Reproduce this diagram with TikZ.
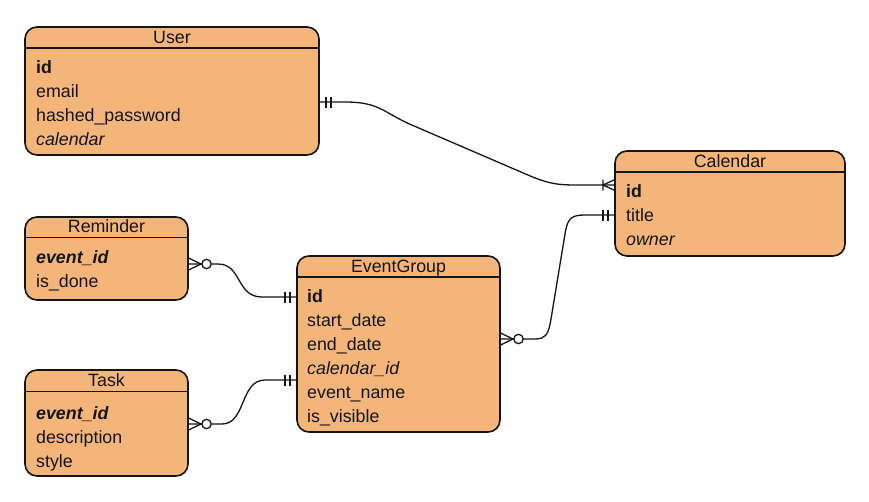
\documentclass[tikz,border=0pt]{standalone}
\usepackage{fontspec}
\setmainfont{Liberation Sans}
\definecolor{erfill}{HTML}{F4B57B}
\definecolor{erline}{HTML}{141414}
\newcommand\erfont{\fontsize{17.8}{21}\selectfont}
\begin{document}
\begin{tikzpicture}[x=1pt,y=-1pt,
  entity/.style={draw=erline, line width=1.6pt, fill=erfill, rounded corners=12pt,
    anchor=north west, inner sep=0pt, outer sep=0pt},
  divider/.style={draw=erline, line width=1.3pt},
  ttl/.style={anchor=base, inner sep=0pt, text=erline, font=\erfont},
  fld/.style={anchor=base west, inner sep=0pt, text=erline, font=\erfont},
  rel/.style={draw=erline, line width=1.3pt},
  pics/mandone/.style={code={
    \draw[rel] (7,-5.5) -- (7,5.5) (12,-5.5) -- (12,5.5);}},
  pics/onemany/.style={code={
    \draw[rel] (12,-5.5) -- (12,5.5) (0,-5.5) -- (12,0) -- (0,5.5);}},
  pics/zeromany/.style={code={
    \draw[rel] (0,-6.3) -- (13,0) -- (0,6.3);
    \draw[rel, fill=white] (18.5,0) circle[radius=4.7pt];}}
]
\useasboundingbox (0,0) rectangle (869,501);

% ---------- entities ----------
\node[entity, minimum width=294pt, minimum height=128pt] (user) at (25,27) {};
\draw[divider] (user.west |- 0,48) -- (user.east |- 0,48);
\node[ttl] (user-t) at (172,43) {User};
\node[fld] (user-f1) at (36,73) {\textbf{id}};
\node[fld] (user-f2) at (36,97) {email};
\node[fld] (user-f3) at (36,121) {hashed\_password};
\node[fld] (user-f4) at (36,145) {\textit{calendar}};

\node[entity, minimum width=230pt, minimum height=105pt] (cal) at (615,151) {};
\draw[divider] (cal.west |- 0,172) -- (cal.east |- 0,172);
\node[ttl] (cal-t) at (730,167) {Calendar};
\node[fld] (cal-f1) at (626,197) {\textbf{id}};
\node[fld] (cal-f2) at (626,221) {title};
\node[fld] (cal-f3) at (626,245) {\textit{owner}};

\node[entity, minimum width=163pt, minimum height=83pt] (rem) at (25,217) {};
\draw[divider] (rem.west |- 0,237.5) -- (rem.east |- 0,237.5);
\node[ttl] (rem-t) at (106.5,232) {Reminder};
\node[fld] (rem-f1) at (36,263.5) {\textbf{\textit{event\_id}}};
\node[fld] (rem-f2) at (36,287.5) {is\_done};

\node[entity, minimum width=203pt, minimum height=176pt] (eg) at (297,256) {};
\draw[divider] (eg.west |- 0,277) -- (eg.east |- 0,277);
\node[ttl] (eg-t) at (398.5,272) {EventGroup};
\node[fld] (eg-f1) at (307,302) {\textbf{id}};
\node[fld] (eg-f2) at (307,326) {start\_date};
\node[fld] (eg-f3) at (307,350) {end\_date};
\node[fld] (eg-f4) at (307,374) {\textit{calendar\_id}};
\node[fld] (eg-f5) at (307,398) {event\_name};
\node[fld] (eg-f6) at (307,422) {is\_visible};

\node[entity, minimum width=163pt, minimum height=106pt] (task) at (25,370) {};
\draw[divider] (task.west |- 0,391.5) -- (task.east |- 0,391.5);
\node[ttl] (task-t) at (106.5,386) {Task};
\node[fld] (task-f1) at (36,419.5) {\textbf{\textit{event\_id}}};
\node[fld] (task-f2) at (36,443.5) {description};
\node[fld] (task-f3) at (36,467.5) {style};

% ---------- connector end points ----------
\coordinate (user-r) at (user.east |- 0,102);
\coordinate (cal-l1) at (cal.west |- 0,185);
\coordinate (cal-l2) at (cal.west |- 0,215);
\coordinate (rem-r)  at (rem.east |- 0,264);
\coordinate (task-r) at (task.east |- 0,424);
\coordinate (eg-l1)  at (eg.west |- 0,297);
\coordinate (eg-l2)  at (eg.west |- 0,380);
\coordinate (eg-r)   at (eg.east |- 0,339);

% ---------- relationships ----------
\draw[rel] (user-r) -- (345,102) .. controls (380,102) and (383,112.6) .. (412,125.1)
  -- (530,175.9) .. controls (552,185) and (560,185) .. (582,185) -- (cal-l1);
\draw[rel] (rem-r) -- (218,264) .. controls (242,264) and (236,297) .. (262,297) -- (eg-l1);
\draw[rel] (task-r) -- (222,424) .. controls (246,424) and (240,380) .. (265,380) -- (eg-l2);
\draw[rel] (eg-r) -- (535,339) .. controls (545,339) and (548,335) .. (550.5,322)
  -- (565.5,231) .. controls (568,218) and (572,215) .. (585,215) -- (cal-l2);

% ---------- cardinality marks ----------
\pic at (user-r) {mandone};
\pic[xscale=-1] at (cal-l1) {onemany};
\pic[xscale=-1] at (cal-l2) {mandone};
\pic at (rem-r) {zeromany};
\pic at (task-r) {zeromany};
\pic at (eg-r) {zeromany};
\pic[xscale=-1] at (eg-l1) {mandone};
\pic[xscale=-1] at (eg-l2) {mandone};
\end{tikzpicture}
\end{document}
